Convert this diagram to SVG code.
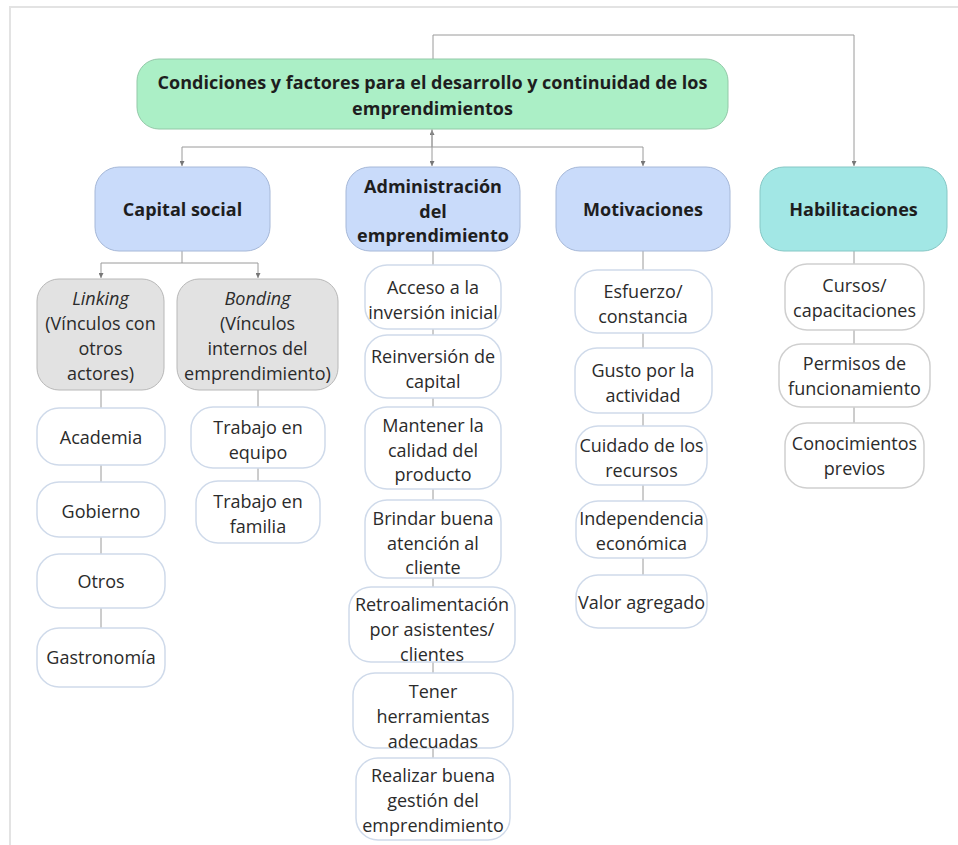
<svg xmlns="http://www.w3.org/2000/svg" width="958" height="845" viewBox="0 0 958 845">
<defs>
<style>
text{font-family:"Open Sans","Noto Sans","Liberation Sans",sans-serif;font-size:18px;fill:#2b2b2b;text-anchor:middle}
.b{font-weight:bold;fill:#1e1e1e}
.i{font-style:italic}
.root{fill:#abefc6;stroke:#93c9a8;stroke-width:1}
.blue{fill:#c9dbfa;stroke:#a6b8d8;stroke-width:1}
.teal{fill:#a2e7e5;stroke:#86c7c5;stroke-width:1}
.gray{fill:#e2e2e2;stroke:#b8b8b8;stroke-width:1}
.leaf{fill:#ffffff;stroke:#cfdaea;stroke-width:1.5}
.leafg{fill:#ffffff;stroke:#cfcfcf;stroke-width:1.5}
.c{fill:none;stroke:#9a9a9a;stroke-width:1}
</style>
<marker id="ah" viewBox="0 0 8 8" refX="8" refY="4" markerWidth="5" markerHeight="5" orient="auto">
<path d="M0,0 L8,4 L0,8 z" fill="#777"/>
</marker>
</defs>
<rect x="0" y="0" width="958" height="845" fill="#ffffff"/>
<path d="M10,845 V7 H958" fill="none" stroke="#e3e3e3" stroke-width="2"/>

<g id="connectors">
<path class="c" d="M433,59 V35 H854 V166" marker-end="url(#ah)"/>
<path class="c" d="M432,147 V130" marker-end="url(#ah)"/>
<path class="c" d="M432,129 V166" marker-end="url(#ah)"/>
<path class="c" d="M182,147 H643"/>
<path class="c" d="M182,147 V166" marker-end="url(#ah)"/>
<path class="c" d="M643,147 V166" marker-end="url(#ah)"/>
<path class="c" d="M182,251 V263"/>
<path class="c" d="M101,263 H258"/>
<path class="c" d="M101,263 V278" marker-end="url(#ah)"/>
<path class="c" d="M258,263 V278" marker-end="url(#ah)"/>
<path class="c" d="M101,390 V628"/>
<path class="c" d="M258,390 V481"/>
<path class="c" d="M433,251 V758"/>
<path class="c" d="M643,251 V575"/>
<path class="c" d="M854,251 V423"/>
</g>

<g id="root">
<rect class="root" x="137" y="59" width="591" height="70" rx="22"/>
<text class="b" x="432.5" y="89">Condiciones y factores para el desarrollo y continuidad de los</text>
<text class="b" x="432.5" y="115">emprendimientos</text>
</g>

<g id="capital-social">
<rect class="blue" x="95" y="167" width="175" height="84" rx="24"/>
<text class="b" x="182.5" y="216">Capital social</text>
</g>
<g id="administracion">
<rect class="blue" x="346" y="167" width="174" height="84" rx="24"/>
<text class="b" x="433" y="193">Administración</text>
<text class="b" x="433" y="218">del</text>
<text class="b" x="433" y="242">emprendimiento</text>
</g>
<g id="motivaciones">
<rect class="blue" x="556" y="167" width="174" height="84" rx="24"/>
<text class="b" x="643" y="216">Motivaciones</text>
</g>
<g id="habilitaciones">
<rect class="teal" x="760" y="167" width="187" height="84" rx="24"/>
<text class="b" x="853.5" y="216">Habilitaciones</text>
</g>

<g id="linking">
<rect class="gray" x="37" y="279" width="127" height="111" rx="22"/>
<text class="i" x="100.5" y="305">Linking</text>
<text x="100.5" y="330">(Vínculos con</text>
<text x="100.5" y="355">otros</text>
<text x="100.5" y="380">actores)</text>
</g>
<g id="bonding">
<rect class="gray" x="177" y="279" width="161" height="111" rx="22"/>
<text class="i" x="257.5" y="305">Bonding</text>
<text x="257.5" y="330">(Vínculos</text>
<text x="257.5" y="355">internos del</text>
<text x="257.5" y="380">emprendimiento)</text>
</g>

<g id="academia">
<rect class="leaf" x="37" y="408" width="128" height="57" rx="22"/>
<text x="101" y="444">Academia</text>
</g>
<g id="gobierno">
<rect class="leaf" x="37" y="482" width="128" height="55" rx="22"/>
<text x="101" y="518">Gobierno</text>
</g>
<g id="otros">
<rect class="leaf" x="37" y="554" width="128" height="54" rx="22"/>
<text x="101" y="588">Otros</text>
</g>
<g id="gastronomia">
<rect class="leaf" x="37" y="628" width="128" height="59" rx="22"/>
<text x="101" y="664">Gastronomía</text>
</g>

<g id="trabajo-equipo">
<rect class="leaf" x="191" y="407" width="134" height="61" rx="22"/>
<text x="258" y="434">Trabajo en</text>
<text x="258" y="459">equipo</text>
</g>
<g id="trabajo-familia">
<rect class="leaf" x="196" y="481" width="124" height="62" rx="22"/>
<text x="258" y="508">Trabajo en</text>
<text x="258" y="533">familia</text>
</g>

<g id="acceso">
<rect class="leaf" x="365" y="265" width="136" height="64" rx="22"/>
<text x="433" y="294">Acceso a la</text>
<text x="433" y="319">inversión inicial</text>
</g>
<g id="reinversion">
<rect class="leaf" x="365" y="335" width="136" height="63" rx="22"/>
<text x="433" y="363">Reinversión de</text>
<text x="433" y="388">capital</text>
</g>
<g id="mantener">
<rect class="leaf" x="365" y="407" width="136" height="82" rx="22"/>
<text x="433" y="432">Mantener la</text>
<text x="433" y="457">calidad del</text>
<text x="433" y="481">producto</text>
</g>
<g id="brindar">
<rect class="leaf" x="365" y="500" width="136" height="78" rx="22"/>
<text x="433" y="525">Brindar buena</text>
<text x="433" y="550">atención al</text>
<text x="433" y="574">cliente</text>
</g>
<g id="retroalimentacion">
<rect class="leaf" x="349" y="587" width="166" height="75" rx="22"/>
<text x="432" y="611">Retroalimentación</text>
<text x="432" y="636">por asistentes/</text>
<text x="432" y="661">clientes</text>
</g>
<g id="tener">
<rect class="leaf" x="353" y="673" width="160" height="75" rx="22"/>
<text x="433" y="698">Tener</text>
<text x="433" y="723">herramientas</text>
<text x="433" y="748">adecuadas</text>
</g>
<g id="realizar">
<rect class="leaf" x="356" y="758" width="154" height="82" rx="22"/>
<text x="433" y="782">Realizar buena</text>
<text x="433" y="807">gestión del</text>
<text x="433" y="832">emprendimiento</text>
</g>

<g id="esfuerzo">
<rect class="leaf" x="575" y="270" width="137" height="63" rx="22"/>
<text x="643" y="298">Esfuerzo/</text>
<text x="643" y="323">constancia</text>
</g>
<g id="gusto">
<rect class="leaf" x="575" y="348" width="137" height="65" rx="22"/>
<text x="643" y="377">Gusto por la</text>
<text x="643" y="402">actividad</text>
</g>
<g id="cuidado">
<rect class="leaf" x="576" y="426" width="131" height="59" rx="22"/>
<text x="641.5" y="452">Cuidado de los</text>
<text x="641.5" y="477">recursos</text>
</g>
<g id="independencia">
<rect class="leaf" x="576" y="501" width="131" height="57" rx="22"/>
<text x="641.5" y="525">Independencia</text>
<text x="641.5" y="550">económica</text>
</g>
<g id="valor">
<rect class="leaf" x="576" y="575" width="131" height="53" rx="22"/>
<text x="641.5" y="609">Valor agregado</text>
</g>

<g id="cursos">
<rect class="leafg" x="785" y="264" width="139" height="66" rx="22"/>
<text x="854.5" y="292">Cursos/</text>
<text x="854.5" y="317">capacitaciones</text>
</g>
<g id="permisos">
<rect class="leafg" x="779" y="344" width="151" height="63" rx="22"/>
<text x="854.5" y="370">Permisos de</text>
<text x="854.5" y="395">funcionamiento</text>
</g>
<g id="conocimientos">
<rect class="leafg" x="785" y="423" width="139" height="65" rx="22"/>
<text x="854.5" y="450">Conocimientos</text>
<text x="854.5" y="475">previos</text>
</g>
</svg>
